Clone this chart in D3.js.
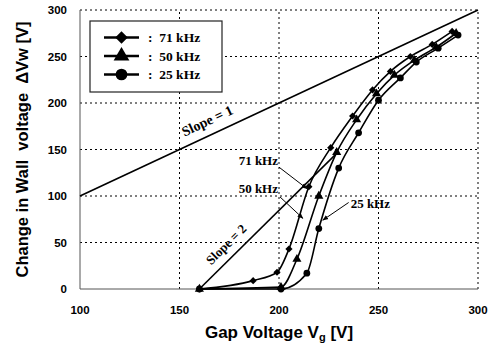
<!DOCTYPE html>
<html>
<head>
<meta charset="utf-8">
<script src="https://cdn.jsdelivr.net/npm/d3@7"></script>
<style>
  body { margin: 0; background: #fff; }
  svg { display: block; }
</style>
</head>
<body>
<svg id="chart" width="490" height="345"></svg>
<script>
// gap voltage (V) / wall voltage change (V)
const vg71 = [160, 187, 199, 205, 215, 226, 237, 247, 256, 266, 277, 287];
const dv71 = [0, 9, 18, 43, 110, 152, 186, 214, 234, 250, 263, 277];
const vg50 = [160, 201, 209, 220, 229, 239, 249, 258, 268, 279, 289];
const dv50 = [0, 2, 32, 100, 147, 182, 210, 230, 246, 260, 275];
const vg25 = [160, 201, 214, 220, 230, 240, 250, 261, 269, 280, 290];
const dv25 = [0, 0, 17, 65, 130, 168, 203, 227, 244, 259, 273];

const seriesNames = ["71 kHz", "50 kHz", "25 kHz"];
const xTicks = [100, 150, 200, 250, 300];
const yTicks = [0, 50, 100, 150, 200, 250, 300];

// reference lines
const slope1 = [[100, 100], [300, 300]];
const slope2 = [[160, 0], [230, 148]];

const svg = d3.select("#chart");
const margin = { top: 10, right: 12, bottom: 56, left: 80 };
const W = 490, H = 345;

const x = d3.scaleLinear().domain([100, 300]).range([margin.left, W - margin.right]);
const y = d3.scaleLinear().domain([0, 300]).range([H - margin.bottom, margin.top]);

const serif = "'Liberation Serif', 'Times New Roman', serif";
const sans = "'Liberation Sans', Arial, sans-serif";

svg.append("defs").append("marker")
    .attr("id", "arrow")
    .attr("viewBox", "0 0 10 10")
    .attr("refX", 9).attr("refY", 5)
    .attr("markerWidth", 6).attr("markerHeight", 6)
    .attr("orient", "auto")
    .append("path")
    .attr("d", "M0,1L10,5L0,9Z")
    .attr("fill", "#000");

// grid
const grid = svg.append("g")
    .attr("stroke", "#000")
    .attr("stroke-width", 1)
    .attr("stroke-dasharray", "2,3");
grid.selectAll("line.v")
    .data(xTicks.slice(1))
    .join("line")
    .attr("x1", d => x(d)).attr("x2", d => x(d))
    .attr("y1", y(0)).attr("y2", y(300));
grid.selectAll("line.h")
    .data(yTicks.slice(1))
    .join("line")
    .attr("x1", x(100)).attr("x2", x(300))
    .attr("y1", d => y(d)).attr("y2", d => y(d));

// solid axes lines (left, bottom)
svg.append("path")
    .attr("d", `M${x(100)},${y(300)}V${y(0)}H${x(300)}`)
    .attr("fill", "none")
    .attr("stroke", "#555")
    .attr("stroke-width", 1);

// tick labels
svg.append("g")
    .selectAll("text")
    .data(yTicks)
    .join("text")
    .attr("x", 67)
    .attr("y", d => y(d))
    .attr("dy", "0.35em")
    .attr("text-anchor", "end")
    .attr("font-family", sans)
    .attr("font-weight", "bold")
    .attr("font-size", 11.5)
    .text(d => d);

svg.append("g")
    .selectAll("text")
    .data(xTicks)
    .join("text")
    .attr("x", d => x(d))
    .attr("y", 314)
    .attr("text-anchor", "middle")
    .attr("font-family", sans)
    .attr("font-weight", "bold")
    .attr("font-size", 11.5)
    .text(d => d);

// axis titles
const xt = svg.append("text")
    .attr("x", (x(100) + x(300)) / 2)
    .attr("y", 338)
    .attr("text-anchor", "middle")
    .attr("font-family", sans)
    .attr("font-weight", "bold")
    .attr("font-size", 17);
xt.append("tspan").text("Gap Voltage V");
xt.append("tspan").attr("font-size", 11).attr("dy", 3).text("g");
xt.append("tspan").attr("dy", -3).text(" [V]");

svg.append("text")
    .attr("transform", `translate(28,${(y(0) + y(300)) / 2}) rotate(-90)`)
    .attr("text-anchor", "middle")
    .attr("font-family", sans)
    .attr("font-weight", "bold")
    .attr("font-size", 16.5)
    .attr("xml:space", "preserve")
    .style("white-space", "pre")
    .text("Change in Wall  voltage  \u0394Vw [V]");

// slope lines
const line = d3.line().x(d => x(d[0])).y(d => y(d[1]));
[slope1, slope2].forEach(s => {
    svg.append("path")
        .attr("d", line(s))
        .attr("fill", "none")
        .attr("stroke", "#000")
        .attr("stroke-width", 1.6);
});

function slopeLabel(pts, at, txt, off, size) {
    const [a, b] = pts;
    const ang = Math.atan2(y(b[1]) - y(a[1]), x(b[0]) - x(a[0])) * 180 / Math.PI;
    const k = (b[1] - a[1]) / (b[0] - a[0]);
    const yy = a[1] + k * (at - a[0]);
    svg.append("text")
        .attr("transform", `translate(${x(at)},${y(yy)}) rotate(${ang})`)
        .attr("y", -off)
        .attr("text-anchor", "middle")
        .attr("font-family", serif)
        .attr("font-weight", "bold")
        .attr("font-size", size)
        .text(txt);
}
slopeLabel(slope1, 167, "Slope = 1", 9.5, 14);
slopeLabel(slope2, 178, "Slope = 2", 8.5, 13);

// data series
const series = [
    { name: seriesNames[0], vg: vg71, dv: dv71, sym: "diamond" },
    { name: seriesNames[1], vg: vg50, dv: dv50, sym: "triangle" },
    { name: seriesNames[2], vg: vg25, dv: dv25, sym: "circle" }
];

const curve = d3.line()
    .x(d => x(d[0]))
    .y(d => y(d[1]))
    .curve(d3.curveMonotoneX);

function symbolPath(type, scale) {
    if (type === "diamond") return d3.symbol(d3.symbolSquare, 26 * scale)();
    if (type === "triangle") return d3.symbol(d3.symbolTriangle, 36 * scale)();
    return d3.symbol(d3.symbolCircle, 36 * scale)();
}

series.forEach(s => {
    const pts = s.vg.map((v, i) => [v, s.dv[i]]);
    svg.append("path")
        .attr("d", curve(pts))
        .attr("fill", "none")
        .attr("stroke", "#000")
        .attr("stroke-width", 1.6);
    svg.append("g")
        .selectAll("path")
        .data(pts)
        .join("path")
        .attr("transform", d => `translate(${x(d[0])},${y(d[1])})` + (s.sym === "diamond" ? " rotate(45)" : ""))
        .attr("d", symbolPath(s.sym, 1))
        .attr("fill", "#000");
});

// annotations
const notes = [
    { txt: "71 kHz", tx: 199.5, ty: 133.5, anchor: "end", from: [200, 131], to: [214, 108] },
    { txt: "50 kHz", tx: 199.5, ty: 103.5, anchor: "end", from: [200.5, 99], to: [212, 76] },
    { txt: "25 kHz", tx: 236, ty: 87, anchor: "start", from: [235, 93], to: [222, 74] }
];
notes.forEach(n => {
    svg.append("text")
        .attr("x", x(n.tx))
        .attr("y", y(n.ty))
        .attr("text-anchor", n.anchor)
        .attr("font-family", serif)
        .attr("font-weight", "bold")
        .attr("font-size", 13)
        .text(n.txt);
    svg.append("line")
        .attr("x1", x(n.from[0])).attr("y1", y(n.from[1]))
        .attr("x2", x(n.to[0])).attr("y2", y(n.to[1]))
        .attr("stroke", "#000")
        .attr("stroke-width", 1)
        .attr("marker-end", "url(#arrow)");
});

// legend
const lg = svg.append("g").attr("transform", "translate(90,21)");
lg.append("rect")
    .attr("width", 132).attr("height", 71)
    .attr("fill", "#fff")
    .attr("stroke", "#222")
    .attr("stroke-width", 1.2);
const rows = lg.selectAll("g")
    .data(series)
    .join("g")
    .attr("transform", (d, i) => `translate(0,${16.5 + i * 18.5})`);
rows.append("line")
    .attr("x1", 14).attr("x2", 49)
    .attr("stroke", "#000")
    .attr("stroke-width", 2.6);
rows.append("path")
    .attr("transform", d => "translate(31.5,0)" + (d.sym === "diamond" ? " rotate(45)" : ""))
    .attr("d", d => symbolPath(d.sym, 3))
    .attr("fill", "#000");
rows.append("text")
    .attr("x", 58)
    .attr("dy", "0.35em")
    .attr("font-family", serif)
    .attr("font-weight", "bold")
    .attr("font-size", 13.5)
    .attr("xml:space", "preserve")
    .style("white-space", "pre")
    .text(d => ":  " + d.name);
</script>
</body>
</html>
